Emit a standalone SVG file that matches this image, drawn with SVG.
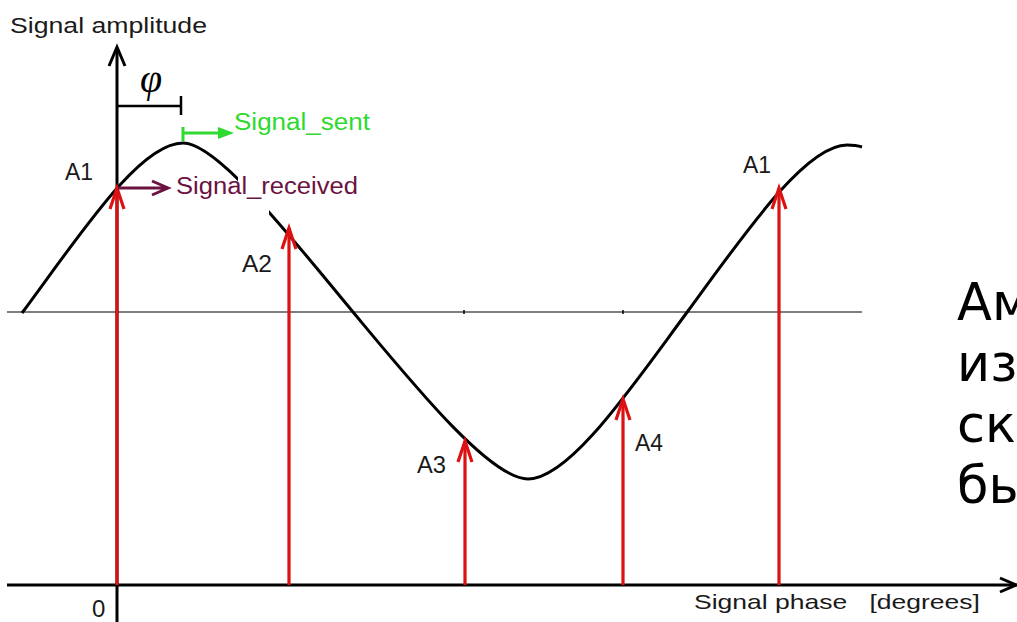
<svg xmlns="http://www.w3.org/2000/svg" width="1017" height="622" viewBox="0 0 1017 622">
<style>
.lbl{font-family:"Liberation Sans",Arial,sans-serif;fill:#1a1a1a}
.ax{stroke:#000;stroke-width:3;fill:none;stroke-linecap:butt}
.red{stroke:#dc1212;stroke-width:3.2;fill:none}
.ru{font-family:"DejaVu Sans",Verdana,sans-serif;font-size:51px;fill:#000}
</style>
<defs>
<marker id="rh" markerUnits="userSpaceOnUse" viewBox="-25 -10 30 20" refX="0" refY="0" markerWidth="30" markerHeight="20" orient="auto" overflow="visible">
<path d="M-21,-7 L0,0 L-21,7" stroke="#dc1212" stroke-width="3.2" fill="none"/>
</marker>
<clipPath id="gap">
<rect x="0" y="0" width="238" height="622"/>
<rect x="269" y="0" width="748" height="622"/>
</clipPath>
</defs>
<rect width="1017" height="622" fill="#fff"/>

<g id="axes">
<line x1="7" y1="312" x2="862" y2="312" stroke="#000" stroke-width="1.2"/>
<line x1="464" y1="310" x2="464" y2="314" stroke="#000" stroke-width="1.5"/>
<line x1="623" y1="310" x2="623" y2="314" stroke="#000" stroke-width="1.5"/>
<line class="ax" x1="7" y1="585" x2="1017" y2="585"/>
<path class="ax" d="M1000,578 L1016,585 L1000,592"/>
<line class="ax" x1="117" y1="622" x2="117" y2="48"/>
<path class="ax" d="M109,66 L117,47 L125,66"/>
</g>

<g id="wave">
<path clip-path="url(#gap)" d="M22,313 C82,232 140,143 183,143 C218,143 293,240 353,312 C413,384 490,479 528,479 C570,479 633,385 688,311 C743,236 805,145 847,145 Q856,145 862,147" fill="none" stroke="#000" stroke-width="3"/>
</g>

<g id="phase-offset">
<path d="M117,106 H181 M181,96 V115" stroke="#000" stroke-width="2.5" fill="none"/>
<text x="140" y="92" font-family="Liberation Serif,serif" font-style="italic" font-size="40" fill="#000">φ</text>
</g>

<g id="connectors">
<path class="red" d="M117,585 V188" marker-end="url(#rh)"/>
<path class="red" d="M289,585 V228" marker-end="url(#rh)"/>
<path class="red" d="M465,585 V441" marker-end="url(#rh)"/>
<path class="red" d="M623,585 V399" marker-end="url(#rh)"/>
<path class="red" d="M779,585 V188" marker-end="url(#rh)"/>
<path d="M183,127 V141 M183,133 H220" stroke="#2fd92f" stroke-width="3" fill="none"/>
<polygon points="218,127 234,133 218,139" fill="#2fd92f"/>
<path d="M118,188 H166 M152,181 L168,188 L152,195" stroke="#6b1241" stroke-width="3" fill="none"/>
</g>

<g id="signal-sent"><text class="lbl" x="234" y="130" font-size="23" textLength="136" lengthAdjust="spacingAndGlyphs" style="fill:#2fd92f">Signal_sent</text></g>
<g id="signal-received"><text class="lbl" x="176" y="194" font-size="23" textLength="182" lengthAdjust="spacingAndGlyphs" style="fill:#6b1241">Signal_received</text></g>

<g id="labels">
<text class="lbl" x="10" y="33" font-size="22" textLength="197" lengthAdjust="spacingAndGlyphs">Signal amplitude</text>
<text class="lbl" x="65" y="180" font-size="23" textLength="28" lengthAdjust="spacingAndGlyphs">A1</text>
<text class="lbl" x="743" y="173" font-size="23" textLength="28" lengthAdjust="spacingAndGlyphs">A1</text>
<text class="lbl" x="242" y="272" font-size="23" textLength="30" lengthAdjust="spacingAndGlyphs">A2</text>
<text class="lbl" x="417" y="473" font-size="23" textLength="29" lengthAdjust="spacingAndGlyphs">A3</text>
<text class="lbl" x="635" y="451" font-size="23" textLength="28" lengthAdjust="spacingAndGlyphs">A4</text>
<text class="lbl" x="92" y="617" font-size="24">0</text>
<text class="lbl" x="694" y="609" font-size="21" textLength="286" lengthAdjust="spacingAndGlyphs" xml:space="preserve" style="white-space:pre">Signal phase   [degrees]</text>
</g>

<g id="russian-text">
<text class="ru" x="957" y="320">Ам</text>
<text class="ru" x="957" y="381">изо</text>
<text class="ru" x="957" y="442">ско</text>
<text class="ru" x="957" y="503">бы</text>
</g>
</svg>
